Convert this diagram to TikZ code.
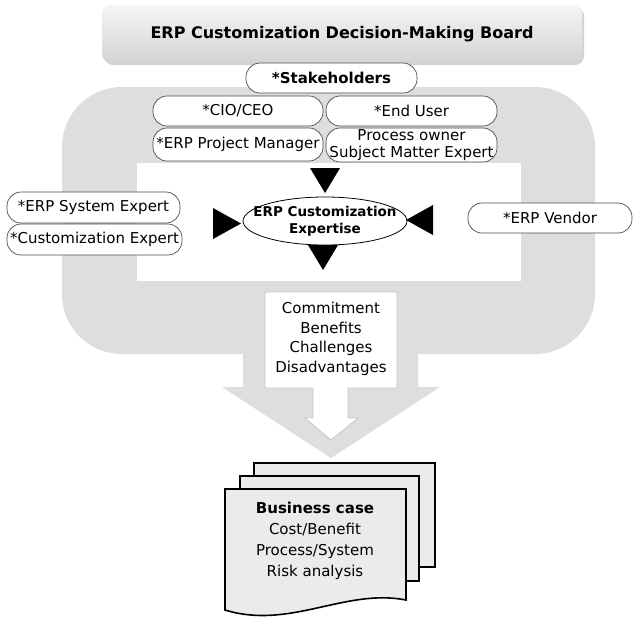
\documentclass[tikz,border=0pt]{standalone}
\usepackage{fontspec}
\setmainfont{DejaVu Sans}
\usetikzlibrary{shapes.geometric,shadows}
\definecolor{panelgrey}{HTML}{DEDEDE}
\definecolor{pagegrey}{HTML}{EBEBEB}
\definecolor{edgegrey}{HTML}{C4C4C4}
\begin{document}
\begin{tikzpicture}[x=1pt,y=-1pt,
    pill/.style={draw=black!70,fill=white,rounded corners=14pt,line width=.7pt,
      minimum height=30pt,inner sep=1pt,align=center,font=\fontsize{15}{17}\selectfont},
    page/.style={draw=black,line width=1.6pt,fill=pagegrey}]
  \useasboundingbox (0,0) rectangle (634,619);
  % decision-making board
  \node[rounded corners=9pt,top color=white!96!black,bottom color=black!17,
    minimum width=480pt,minimum height=58pt,
    drop shadow={shadow xshift=2pt,shadow yshift=-2pt,opacity=.35},
    font=\fontsize{16}{19}\selectfont\bfseries] (board) at (342,34)
    {ERP Customization Decision-Making Board};
  % grey panel with arrow
  \fill[panelgrey,rounded corners=60pt] (62,87) rectangle (595,354);
  \fill[panelgrey] (243,350) -- (243,387) -- (222,387) -- (331,458)
    -- (440,387) -- (418,387) -- (418,350) -- cycle;
  \fill[white] (137,163) rectangle (521,281);
  % stakeholders
  \node[pill,minimum width=171pt,font=\fontsize{15}{17}\selectfont\bfseries] (stake) at (331.5,78) {*Stakeholders};
  \node[pill,minimum width=170pt] (cio) at (238,111) {*CIO/CEO};
  \node[pill,minimum width=171pt] (user) at (411.5,111) {*End User};
  \node[pill,minimum width=170pt,minimum height=33pt] (pm) at (238,144.5) {*ERP Project Manager};
  \node[pill,minimum width=171pt,minimum height=34pt] (owner) at (411.5,145) {Process owner\\Subject Matter Expert};
  \node[pill,minimum width=173pt,minimum height=31pt] (sysexp) at (93.5,207.5) {*ERP System Expert};
  \node[pill,minimum width=175pt,minimum height=31pt] (custexp) at (94.5,239.5) {*Customization Expert};
  \node[pill,minimum width=164pt] (vendor) at (550,218) {*ERP Vendor};
  % expertise
  \node[draw,ellipse,line width=.8pt,minimum width=164pt,minimum height=48pt,inner sep=0pt] (expertise) at (325,221) {};
  \node[align=center,font=\fontsize{13.5}{17}\selectfont\bfseries] at (expertise) {ERP Customization\\Expertise};
  \fill (310,168) -- (340,168) -- (325,193) -- cycle;
  \fill (308,245) -- (338,245) -- (323,270) -- cycle;
  \fill (213,208) -- (241,223.5) -- (213,239) -- cycle;
  \fill (433,205) -- (406,220) -- (433,235) -- cycle;
  % callout
  \filldraw[fill=white,draw=edgegrey,line width=.7pt] (265,292) -- (397,292) -- (397,388)
    -- (348,388) -- (348,418) -- (358,418) -- (331,440) -- (305,418) -- (313,418)
    -- (313,388) -- (265,388) -- cycle;
  \node[align=center,font=\fontsize{15}{19.6}\selectfont] (factors) at (331,339)
    {Commitment\\Benefits\\Challenges\\Disadvantages};
  % business case pages
  \filldraw[page] (254,463) rectangle (435,567);
  \filldraw[page] (240,476) rectangle (419,581);
  \filldraw[page] (225,489) -- (406,489) -- (406,600)
    .. controls (345,588) and (290,630) .. (225,610) -- cycle;
  \node[align=center,font=\fontsize{15}{21}\selectfont] (case) at (315,541)
    {\textbf{Business case}\\Cost/Benefit\\Process/System\\Risk analysis};
\end{tikzpicture}
\end{document}
